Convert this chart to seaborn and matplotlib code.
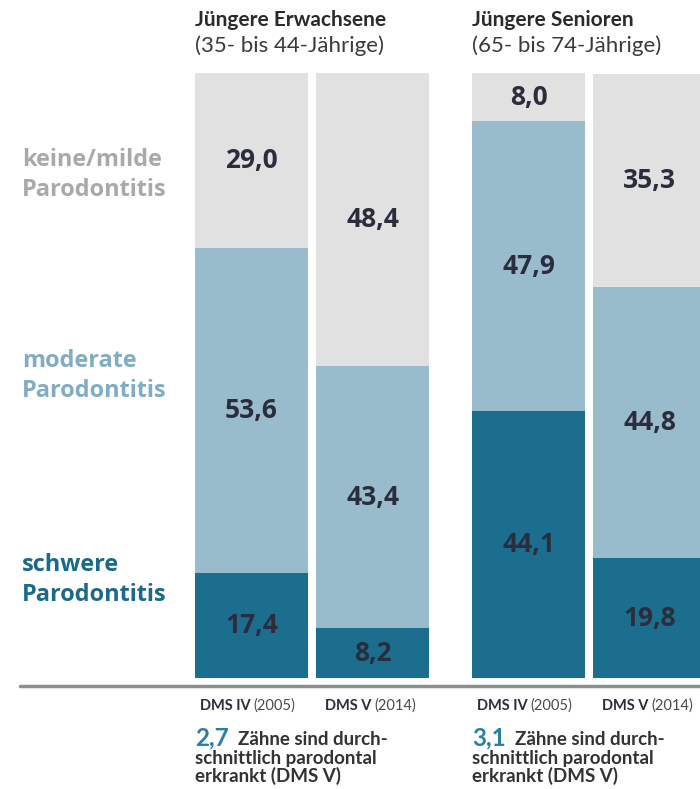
import numpy as np
import pandas as pd
import matplotlib.pyplot as plt
from matplotlib.lines import Line2D
import seaborn as sns

# --- Daten ---
gruppen = ["Jüngere Erwachsene", "Jüngere Senioren"]
altersgruppen = ["(35- bis 44-Jährige)", "(65- bis 74-Jährige)"]
studien = ["DMS IV", "DMS V", "DMS IV", "DMS V"]
jahre = ["(2005)", "(2014)", "(2005)", "(2014)"]
schwer = [17.4, 8.2, 44.1, 19.8]
moderat = [53.6, 43.4, 47.9, 44.8]
keine_milde = [29.0, 48.4, 8.0, 35.3]
zaehne = ["2,7", "3,1"]
kategorien = ["keine/milde\nParodontitis", "moderate\nParodontitis", "schwere\nParodontitis"]

# Farben
c_keine = "#e1e1e1"
c_moderat = "#99bccd"
c_schwer = "#1b6e8e"
c_txt = "#2b2d3c"

sns.set_theme(style="white")
plt.rcParams["font.family"] = ["Lato", "DejaVu Sans"]
fett = ["Open Sans", "DejaVu Sans"]

# Positionen: zwei Gruppen mit Lücke dazwischen
pos = np.array([0.0, 1.0, 2.29, 3.29])
breite = 0.934

df = pd.DataFrame({"pos": pos, "schwer": schwer, "moderat": moderat, "keine": keine_milde})
df["s"] = df["schwer"]
df["sm"] = df["schwer"] + df["moderat"]
df["smk"] = df["sm"] + df["keine"]

W, H = 700, 789
fig = plt.figure(figsize=(W / 100, H / 100), dpi=100)
ax = fig.add_axes([195 / W, 1 - 678 / H, 505 / W, 605 / H])

# gestapelte Balken: von oben nach unten übereinander zeichnen
for spalte, farbe in [("smk", c_keine), ("sm", c_moderat), ("s", c_schwer)]:
    sns.barplot(data=df, x="pos", y=spalte, native_scale=True, orient="x",
                color=farbe, saturation=1, width=breite, errorbar=None,
                linewidth=0, ax=ax)

ax.set_xlim(-breite / 2, -breite / 2 + 505 / 121)
ax.set_ylim(0, 100)
ax.set_axis_off()

# Werte in den Segmenten
for i, r in df.iterrows():
    unten = 0
    for wert in [r["schwer"], r["moderat"], r["keine"]]:
        ax.text(r["pos"], unten + wert / 2, f"{wert:.1f}".replace(".", ","),
                ha="center", va="center", fontsize=19, fontweight="bold",
                color=c_txt, family=fett)
        unten += wert

def fy(y):
    return 1 - y / H

# Kategorien links
for txt, y, farbe in zip(kategorien, [175, 376, 580], ["#a9a9a9", "#80adc3", "#1b6a8a"]):
    fig.text(22 / W, fy(y), txt, ha="left", va="center", fontsize=16.9,
             fontweight="bold", color=farbe, linespacing=1.3, family=fett)

# Gruppentitel
for g, x0 in zip(range(2), [195, 472]):
    fig.text(x0 / W, fy(20), gruppen[g], ha="left", va="center", fontsize=15,
             fontweight="bold", color="#2a2a2a")
    fig.text(x0 / W, fy(46), altersgruppen[g], ha="left", va="center", fontsize=16,
             color="#3a3a3a")

# Grundlinie
fig.add_artist(Line2D([20 / W, 1], [fy(686), fy(686)], color="#8f8f8f", lw=2.5))

# Studienbeschriftung
for i, p in enumerate(pos):
    xc = ax.transData.transform((p, 0))[0] / W
    fig.text(xc - 1 / W, fy(706), studien[i], ha="right", va="center", fontsize=10.5,
             fontweight="bold", color=c_txt)
    fig.text(xc + 2 / W, fy(706), jahre[i], ha="left", va="center", fontsize=10.5,
             color="#4a4a4a")

# Zähne-Hinweis
for g, x0 in zip(range(2), [195, 472]):
    fig.text(x0 / W, fy(745), zaehne[g], ha="left", va="baseline", fontsize=17.5,
             fontweight="bold", color="#2a7fa6")
    fig.text((x0 + 43) / W, fy(745), "Zähne sind durch-", ha="left", va="baseline",
             fontsize=13.5, fontweight="bold", color="#333333")
    fig.text(x0 / W, fy(764), "schnittlich parodontal", ha="left", va="baseline",
             fontsize=13.5, fontweight="bold", color="#333333")
    fig.text(x0 / W, fy(782), "erkrankt (DMS V)", ha="left", va="baseline",
             fontsize=13.5, fontweight="bold", color="#333333")

fig.savefig("out.png", dpi=100)
